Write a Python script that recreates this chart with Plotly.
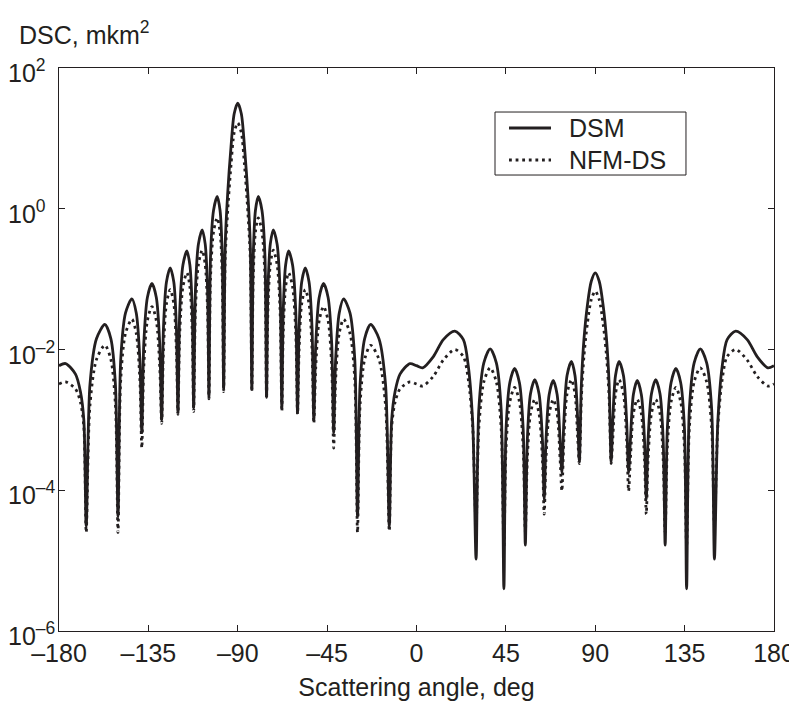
import numpy as np
import plotly.graph_objects as go

# scattering angle, deg (shared by both curves)
angle = [
    -180, -176.7, -171.7, -169.2, -167.5, -166.3,
    -164.4, -161.1, -156.9, -153.9, -151.6, -150.3,
    -148.9, -146.5, -143.3, -141.1, -139.3, -138.3,
    -137.3, -135.5, -133.2, -131.0, -129.3, -128.3,
    -127.4, -125.9, -124.0, -122.2, -120.9, -120.1,
    -119.2, -117.6, -115.6, -114.1, -112.9, -112.2,
    -111.3, -109.8, -107.9, -106.4, -105.2, -104.5,
    -103.7, -102.2, -100.35, -98.9, -97.8, -97.1,
    -96.3, -95.1, -93.4, -91.8, -90.0, -88.2, -86.6, -84.9, -83.7, -82.9,
    -82.2, -81.1, -79.65, -77.8, -76.3, -75.5,
    -74.8, -73.6, -72.1, -70.2, -68.7, -67.8,
    -67.1, -65.9, -64.4, -62.4, -60.8, -59.9,
    -59.1, -57.8, -56.0, -54.1, -52.6, -51.7,
    -50.7, -49.0, -46.8, -44.5, -42.7, -41.7,
    -40.7, -38.9, -36.7, -33.5, -31.1, -29.7,
    -28.4, -26.1, -23.1, -18.9, -15.6, -13.7,
    -12.5, -10.8, -8.3, -3.3, 0.0, 3.1, 8.5, 13.5, 19.3, 23.6, 26.1, 28.3, 30.0,
    31.4, 33.9, 37.1, 40.2, 42.6, 44.0,
    45.1, 47.0, 49.4, 51.8, 53.7, 54.8,
    55.8, 57.4, 59.55, 61.7, 63.4, 64.3,
    65.2, 66.8, 68.85, 70.8, 72.3, 73.2,
    74.2, 75.8, 78.0, 79.8, 81.2, 82.0,
    83.0, 84.3, 86.0, 88.0, 90.0, 92.0, 94.0, 95.7, 97.0, 98.0,
    98.8, 100.2, 102.0, 104.2, 105.8, 106.8,
    107.7, 109.2, 111.15, 113.2, 114.8, 115.7,
    116.6, 118.3, 120.45, 122.6, 124.2, 125.2,
    126.3, 128.2, 130.6, 133.0, 134.9, 136.0,
    137.4, 139.8, 142.9, 146.1, 148.6, 150.0,
    151.7, 153.9, 156.4, 160.7, 166.5, 171.5, 176.9, 180,
]

# log10 of DSC, DSM (solid)
dsm_log = [
    -2.23, -2.20, -2.35, -2.60, -3.00, -4.51,
    -2.495, -1.845, -1.645, -1.845, -2.495, -4.37,
    -2.13, -1.48, -1.28, -1.48, -2.13, -3.18,
    -1.91, -1.26, -1.06, -1.26, -1.91, -3.00,
    -1.69, -1.04, -0.84, -1.04, -1.69, -2.90,
    -1.45, -0.80, -0.60, -0.80, -1.45, -2.83,
    -1.15, -0.50, -0.30, -0.50, -1.15, -2.68,
    -0.675, -0.025, 0.175, -0.025, -0.675, -2.57,
    -0.50, 0.20, 0.88, 1.35, 1.50, 1.35, 0.88, 0.20, -0.50, -2.57,
    -0.675, -0.025, 0.175, -0.025, -0.675, -2.68,
    -1.15, -0.50, -0.30, -0.50, -1.15, -2.83,
    -1.45, -0.80, -0.60, -0.80, -1.45, -2.90,
    -1.69, -1.04, -0.84, -1.04, -1.69, -3.00,
    -1.91, -1.26, -1.06, -1.26, -1.91, -3.18,
    -2.13, -1.48, -1.28, -1.48, -2.13, -4.37,
    -2.495, -1.845, -1.645, -1.845, -2.495, -4.51,
    -3.00, -2.60, -2.35, -2.20, -2.23, -2.26, -2.10, -1.86, -1.74, -1.86, -2.24, -3.04, -4.98,
    -2.84, -2.19, -1.99, -2.19, -2.84, -5.40,
    -3.12, -2.47, -2.27, -2.47, -3.12, -4.78,
    -3.28, -2.63, -2.43, -2.63, -3.28, -4.13,
    -3.29, -2.64, -2.44, -2.64, -3.29, -3.75,
    -3.02, -2.37, -2.17, -2.37, -3.02, -3.60,
    -2.50, -1.86, -1.38, -1.03, -0.91, -1.03, -1.38, -1.86, -2.50, -3.60,
    -3.02, -2.37, -2.17, -2.37, -3.02, -3.75,
    -3.29, -2.64, -2.44, -2.64, -3.29, -4.13,
    -3.28, -2.63, -2.43, -2.63, -3.28, -4.78,
    -3.12, -2.47, -2.27, -2.47, -3.12, -5.40,
    -2.84, -2.19, -1.99, -2.19, -2.84, -4.98,
    -3.04, -2.24, -1.86, -1.74, -1.86, -2.10, -2.26, -2.23,
]

# log10 of DSC, NFM-DS (dotted)
nfm_log = [
    -2.49, -2.46, -2.56, -2.75, -3.10, -4.60,
    -2.79, -2.14, -1.94, -2.14, -2.79, -4.60,
    -2.42, -1.77, -1.57, -1.77, -2.42, -3.40,
    -2.24, -1.59, -1.39, -1.59, -2.24, -3.05,
    -2.00, -1.35, -1.15, -1.35, -2.00, -2.92,
    -1.76, -1.11, -0.91, -1.11, -1.76, -2.88,
    -1.44, -0.79, -0.59, -0.79, -1.44, -2.70,
    -0.98, -0.33, -0.13, -0.33, -0.98, -2.60,
    -0.70, -0.05, 0.62, 1.08, 1.22, 1.08, 0.62, -0.05, -0.70, -2.60,
    -0.98, -0.33, -0.13, -0.33, -0.98, -2.70,
    -1.44, -0.79, -0.59, -0.79, -1.44, -2.88,
    -1.76, -1.11, -0.91, -1.11, -1.76, -2.92,
    -2.00, -1.35, -1.15, -1.35, -2.00, -3.05,
    -2.24, -1.59, -1.39, -1.59, -2.24, -3.40,
    -2.42, -1.77, -1.57, -1.77, -2.42, -4.60,
    -2.79, -2.14, -1.94, -2.14, -2.79, -4.58,
    -3.10, -2.75, -2.56, -2.46, -2.49, -2.52, -2.38, -2.15, -2.00, -2.10, -2.43, -3.10, -4.50,
    -3.11, -2.46, -2.26, -2.46, -3.11, -4.80,
    -3.39, -2.74, -2.54, -2.74, -3.39, -4.60,
    -3.56, -2.91, -2.71, -2.91, -3.56, -4.34,
    -3.56, -2.91, -2.71, -2.91, -3.56, -4.01,
    -3.28, -2.63, -2.43, -2.63, -3.28, -3.62,
    -2.70, -2.10, -1.64, -1.29, -1.17, -1.29, -1.64, -2.10, -2.70, -3.62,
    -3.28, -2.63, -2.43, -2.63, -3.28, -4.01,
    -3.56, -2.91, -2.71, -2.91, -3.56, -4.34,
    -3.56, -2.91, -2.71, -2.91, -3.56, -4.60,
    -3.39, -2.74, -2.54, -2.74, -3.39, -4.80,
    -3.11, -2.46, -2.26, -2.46, -3.11, -4.50,
    -3.10, -2.43, -2.10, -2.00, -2.15, -2.38, -2.52, -2.49,
]

x_ticks = [-180, -135, -90, -45, 0, 45, 90, 135, 180]
x_labels = ['–180', '–135', '–90', '–45', '0', '45', '90', '135', '180']
y_ticks = [1e-6, 1e-4, 1e-2, 1, 1e2]
y_labels = ['10<sup>–6</sup>', '10<sup>–4</sup>', '10<sup>–2</sup>', '10<sup>0</sup>', '10<sup>2</sup>']

ink = '#231f20'
font = 'Liberation Sans, Arial, sans-serif'
dots = '2.8px,3.8px'

fig = go.Figure()
fig.add_trace(go.Scatter(x=angle, y=10 ** np.array(dsm_log), name='DSM', mode='lines',
                         line=dict(color=ink, width=2.8, shape='spline', smoothing=0.8)))
fig.add_trace(go.Scatter(x=angle, y=10 ** np.array(nfm_log), name='NFM-DS', mode='lines',
                         line=dict(color=ink, width=2.8, dash=dots, shape='spline', smoothing=0.8)))

# legend drawn by hand so the box matches the original
legend_shapes = [
    dict(type='rect', xref='paper', yref='paper', x0=0.6098, x1=0.8769, y0=0.8099, y1=0.9218,
         line=dict(color=ink, width=1), fillcolor='white', layer='above'),
    dict(type='line', xref='paper', yref='paper', x0=0.6294, x1=0.6881, y0=0.8934, y1=0.8934,
         line=dict(color=ink, width=2.8), layer='above'),
    dict(type='line', xref='paper', yref='paper', x0=0.6294, x1=0.6881, y0=0.8366, y1=0.8366,
         line=dict(color=ink, width=2.8, dash=dots), layer='above'),
]
legend_texts = [
    dict(text='DSM', x=0.7105, y=0.8934, xref='paper', yref='paper', xanchor='left',
         yanchor='middle', showarrow=False, font=dict(family=font, size=25, color=ink)),
    dict(text='NFM-DS', x=0.7105, y=0.8366, xref='paper', yref='paper', xanchor='left',
         yanchor='middle', showarrow=False, font=dict(family=font, size=25, color=ink)),
]

# y tick labels left-aligned like the original (base "10" in one column)
y_tick_texts = [
    dict(text=lab, x=0, y=np.log10(v), xref='paper', yref='y', xanchor='left', yanchor='middle',
         xshift=-53, yshift=-3, showarrow=False, font=dict(family=font, size=25, color=ink))
    for v, lab in zip(y_ticks, y_labels)
]

fig.update_layout(
    width=789, height=693,
    margin=dict(l=51, r=23, t=60, b=70),
    paper_bgcolor='white', plot_bgcolor='white',
    font=dict(family=font, size=25, color=ink),
    showlegend=False,
    shapes=legend_shapes,
    annotations=[
        dict(text='DSC, mkm<sup>2</sup>', x=0.0, y=1.0, xref='paper', yref='paper',
             xshift=-42, yshift=35, xanchor='left', yanchor='middle',
             showarrow=False, font=dict(family=font, size=25, color=ink)),
    ] + legend_texts + y_tick_texts,
)
fig.update_xaxes(range=[-180, 180], tickvals=x_ticks, ticktext=x_labels, automargin=False,
                 tickfont=dict(family=font, size=25, color=ink),
                 showline=True, linecolor=ink, linewidth=1, mirror='ticks',
                 ticks='inside', ticklen=6, tickcolor=ink, showgrid=False, zeroline=False,
                 title=dict(text='Scattering angle, deg', standoff=14,
                            font=dict(family=font, size=25, color=ink)))
fig.update_yaxes(type='log', range=[-6, 2], tickvals=y_ticks, showticklabels=False, automargin=False,
                 showline=True, linecolor=ink, linewidth=1, mirror='ticks',
                 ticks='inside', ticklen=6, tickcolor=ink, showgrid=False, zeroline=False)

fig.write_html("out.html")
